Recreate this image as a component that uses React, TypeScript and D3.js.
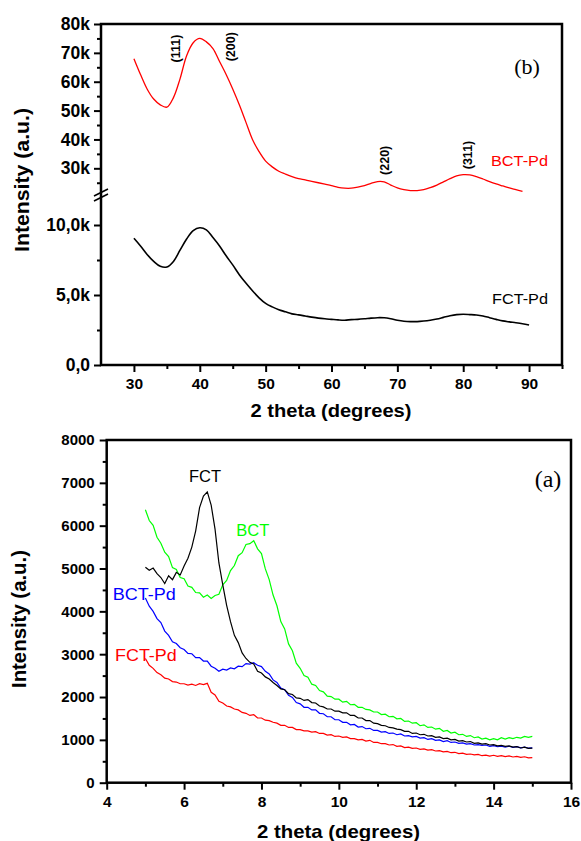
import React, { useEffect, useRef } from 'react'
import * as d3 from 'd3'

const FONT = '"Liberation Sans", Arial, Helvetica, sans-serif'
const SERIF = '"Liberation Serif", "Times New Roman", serif'

// ---- panel (b): wide angle, 2 theta 30..90 ----
const THETA_BCT_PD = d3.range(30, 90)
const BCT_PD_WIDE = [
  68000, 62500, 57500, 54000, 52000, 51200, 54500, 61000, 69000, 73500,
  75000, 73800, 71500, 67000, 62500, 57500, 52000, 46000, 40000, 35800,
  32500, 30500, 29000, 28000, 27100, 26400, 26000, 25500, 25000, 24500,
  24000, 23400, 23100, 23100, 23500, 24000, 24800, 25400, 25300, 24200,
  23200, 22600, 22300, 22300, 22600, 23300, 24200, 25300, 26400, 27400,
  27800, 27700, 27100, 26300, 25400, 24600, 23900, 23200, 22600, 22000,
]
const THETA_FCT_PD = d3.range(30, 91)
const FCT_PD_WIDE = [
  9050, 8500, 7900, 7400, 7050, 7000, 7400, 8200, 9000, 9600,
  9800, 9650, 9100, 8500, 7800, 7150, 6450, 5850, 5300, 4800,
  4400, 4150, 3950, 3800, 3650, 3580, 3500, 3420, 3350, 3300,
  3260, 3220, 3200, 3240, 3260, 3300, 3350, 3380, 3370, 3300,
  3200, 3130, 3100, 3100, 3140, 3200, 3280, 3400, 3520, 3600,
  3620, 3600, 3570, 3500, 3380, 3260, 3150, 3080, 3020, 2950,
  2860,
]
const PEAKS = [
  { label: '(111)', theta: 36.3, y: 48.5 },
  { label: '(200)', theta: 44.7, y: 46.7 },
  { label: '(220)', theta: 68.0, y: 160.3 },
  { label: '(311)', theta: 80.7, y: 155 },
]
const B_HI_TICKS = [30000, 40000, 50000, 60000, 70000, 80000]
const B_HI_MINOR = [25000, 35000, 45000, 55000, 65000, 75000]
const B_LO_TICKS = [0, 5000, 10000]
const B_LO_MINOR = [2500, 7500]
const B_LO_LABELS = ['0,0', '5,0k', '10,0k']
const B_X_TICKS = [30, 40, 50, 60, 70, 80, 90]
const B_X_MINOR = [35, 45, 55, 65, 75, 85, 95]

// ---- panel (a): low angle, 2 theta 5..15 step 0.1 ----
const THETA_A = d3.range(0, 101).map((i) => +(5 + i * 0.1).toFixed(1))
const FCT = [
  5030, 4960, 5010, 4880, 4790, 4650, 4830, 4740, 4910, 4850,
  5060, 5240, 5500, 5880, 6420, 6690, 6790, 6480, 5920, 5130,
  4620, 4140, 3760, 3440, 3270, 3030, 2900, 2810, 2770, 2600,
  2560, 2470, 2420, 2340, 2270, 2190, 2170, 2080, 2060, 1980,
  1970, 1920, 1940, 1870, 1860, 1790, 1770, 1720, 1720, 1670,
  1670, 1630, 1630, 1570, 1570, 1510, 1510, 1450, 1450, 1390,
  1380, 1340, 1330, 1290, 1280, 1250, 1240, 1200, 1200, 1150,
  1160, 1120, 1130, 1090, 1100, 1060, 1070, 1030, 1040, 1000,
  1010, 970, 980, 950, 960, 920, 930, 900, 910, 880,
  890, 860, 870, 850, 860, 830, 840, 810, 830, 800,
  805,
]
const BCT = [
  6370, 6120, 6010, 5730, 5590, 5380, 5280, 5020, 4980, 4790,
  4760, 4590, 4560, 4440, 4430, 4330, 4380, 4300, 4370, 4400,
  4620, 4720, 4950, 5070, 5300, 5370, 5560, 5580, 5650, 5460,
  5350, 4990, 4740, 4380, 4130, 3760, 3590, 3240, 3080, 2790,
  2670, 2500, 2460, 2300, 2270, 2150, 2120, 2020, 2010, 1950,
  1950, 1880, 1900, 1820, 1830, 1760, 1760, 1710, 1700, 1650,
  1650, 1590, 1600, 1540, 1550, 1490, 1500, 1430, 1440, 1390,
  1400, 1330, 1350, 1290, 1300, 1250, 1270, 1200, 1220, 1160,
  1180, 1120, 1130, 1080, 1100, 1050, 1070, 1020, 1040, 1000,
  1030, 1000, 1050, 1020, 1050, 1030, 1060, 1040, 1080, 1060,
  1080,
]
const BCT_PD = [
  4310, 4120, 4000, 3830, 3740, 3540, 3440, 3290, 3250, 3150,
  3110, 3020, 3010, 2920, 2920, 2840, 2840, 2720, 2670, 2600,
  2650, 2630, 2680, 2660, 2720, 2710, 2780, 2770, 2800, 2740,
  2710, 2600, 2540, 2400, 2340, 2210, 2170, 2040, 1990, 1870,
  1840, 1760, 1760, 1700, 1700, 1620, 1610, 1540, 1540, 1470,
  1470, 1410, 1410, 1350, 1360, 1300, 1310, 1260, 1270, 1220,
  1220, 1180, 1190, 1150, 1160, 1120, 1140, 1090, 1100, 1070,
  1080, 1040, 1050, 1010, 1030, 990, 1000, 960, 980, 940,
  950, 920, 930, 900, 910, 880, 890, 870, 880, 850,
  865, 840, 855, 830, 850, 825, 840, 815, 830, 805,
  815,
]
const FCT_PD = [
  2900, 2740, 2670, 2570, 2520, 2440, 2420, 2360, 2350, 2310,
  2310, 2280, 2300, 2270, 2310, 2290, 2320, 2110, 2050, 1900,
  1860, 1790, 1770, 1720, 1700, 1640, 1620, 1570, 1590, 1510,
  1510, 1460, 1450, 1410, 1390, 1340, 1340, 1290, 1290, 1240,
  1240, 1210, 1210, 1180, 1190, 1150, 1150, 1110, 1120, 1080,
  1090, 1060, 1070, 1030, 1030, 1000, 1010, 970, 990, 940,
  940, 910, 910, 880, 890, 850, 860, 820, 830, 800,
  810, 780, 790, 760, 770, 740, 750, 720, 730, 700,
  710, 680, 690, 660, 670, 650, 660, 630, 645, 620,
  640, 615, 630, 610, 625, 600, 615, 590, 605, 580,
  585,
]
const A_SERIES = [
  { name: 'FCT', values: FCT, color: '#000000' },
  { name: 'BCT', values: BCT, color: '#00ff00' },
  { name: 'BCT-Pd', values: BCT_PD, color: '#0000ff' },
  { name: 'FCT-Pd', values: FCT_PD, color: '#ff0000' },
]
const A_X_TICKS = [4, 6, 8, 10, 12, 14, 16]
const A_X_MINOR = [5, 7, 9, 11, 13, 15]
const A_Y_TICKS = d3.range(0, 8001, 1000)
const A_Y_MINOR = d3.range(500, 8000, 1000)

export default function App() {
  const svgRef = useRef<SVGSVGElement>(null)

  useEffect(() => {
    const svg = d3.select(svgRef.current)
    svg.selectAll('*').remove()

    svg.append('rect').attr('width', 581).attr('height', 841).attr('fill', '#fff')

    const label = (x, y, str, o: any = {}) =>
      svg.append('text')
        .attr('x', x)
        .attr('y', y)
        .attr('font-family', o.family || FONT)
        .attr('font-size', o.size || 16)
        .attr('font-weight', o.weight || 'normal')
        .attr('fill', o.color || '#000')
        .attr('text-anchor', o.anchor || 'start')
        .text(str)

    const styleAxis = (g, size) => {
      g.select('.domain').remove()
      g.selectAll('line').attr('stroke', '#000').attr('stroke-width', 2)
      g.attr('font-family', FONT).attr('font-size', size).attr('font-weight', 'bold')
      g.selectAll('text').attr('fill', '#000')
    }

    // ================= panel (b) =================
    const xB = d3.scaleLinear().domain([25, 95]).range([101, 562])
    const yHi = d3.scaleLinear().domain([22000, 80000]).range([191.4, 24])
    const yLo = d3.scaleLinear().domain([0, 12000]).range([365, 197])

    svg.append('g').attr('transform', 'translate(101,0)')
      .call(d3.axisLeft(yHi).tickValues(B_HI_TICKS).tickSize(7).tickPadding(4).tickFormat((d) => `${+d / 1000}k`))
      .call((g) => styleAxis(g, 17.5))
    svg.append('g').attr('transform', 'translate(101,0)')
      .call(d3.axisLeft(yHi).tickValues(B_HI_MINOR).tickSize(4).tickFormat(() => ''))
      .call((g) => styleAxis(g, 10))
    svg.append('g').attr('transform', 'translate(101,0)')
      .call(d3.axisLeft(yLo).tickValues(B_LO_TICKS).tickSize(7).tickPadding(4).tickFormat((_, i) => B_LO_LABELS[i]))
      .call((g) => styleAxis(g, 17.5))
    svg.append('g').attr('transform', 'translate(101,0)')
      .call(d3.axisLeft(yLo).tickValues(B_LO_MINOR).tickSize(4).tickFormat(() => ''))
      .call((g) => styleAxis(g, 10))
    svg.append('g').attr('transform', 'translate(0,365)')
      .call(d3.axisBottom(xB).tickValues(B_X_TICKS).tickSize(7).tickPadding(6).tickFormat(d3.format('d')))
      .call((g) => styleAxis(g, 15.5))
    svg.append('g').attr('transform', 'translate(0,365)')
      .call(d3.axisBottom(xB).tickValues(B_X_MINOR).tickSize(4).tickFormat(() => ''))
      .call((g) => styleAxis(g, 10))

    svg.append('rect')
      .attr('x', xB(25)).attr('y', yHi(80000))
      .attr('width', xB(95) - xB(25)).attr('height', yLo(0) - yHi(80000))
      .attr('fill', 'none').attr('stroke', '#000').attr('stroke-width', 2.5)

    // axis break marks
    ;[0, 5].forEach((off) => {
      svg.append('line')
        .attr('x1', 94).attr('y1', 196 + off).attr('x2', 108).attr('y2', 189 + off)
        .attr('stroke', '#000').attr('stroke-width', 1.6)
    })

    const lineHi = d3.line<number>().x((_, i) => xB(THETA_BCT_PD[i])).y((d) => yHi(d)).curve(d3.curveCatmullRom)
    const lineLo = d3.line<number>().x((_, i) => xB(THETA_FCT_PD[i])).y((d) => yLo(d)).curve(d3.curveCatmullRom)
    svg.append('path').attr('d', lineHi(BCT_PD_WIDE)).attr('fill', 'none').attr('stroke', '#ff0000').attr('stroke-width', 1.3)
    svg.append('path').attr('d', lineLo(FCT_PD_WIDE)).attr('fill', 'none').attr('stroke', '#000').attr('stroke-width', 1.6)

    PEAKS.forEach((p) => {
      svg.append('text')
        .attr('transform', `translate(${xB(p.theta)},${p.y}) rotate(-90)`)
        .attr('dy', '0.35em')
        .attr('text-anchor', 'middle')
        .attr('font-family', FONT).attr('font-weight', 'bold').attr('font-size', 12.5)
        .text(p.label)
    })

    label(491, 165.7, 'BCT-Pd', { color: '#ff0000', size: 15.5 }).attr('textLength', 57).attr('lengthAdjust', 'spacingAndGlyphs')
    label(492, 304, 'FCT-Pd', { size: 15.5 }).attr('textLength', 56).attr('lengthAdjust', 'spacingAndGlyphs')
    label(527, 74, '(b)', { family: SERIF, size: 22, anchor: 'middle' })

    svg.append('text')
      .attr('transform', 'translate(29,180) rotate(-90)')
      .attr('text-anchor', 'middle')
      .attr('font-family', FONT).attr('font-weight', 'bold').attr('font-size', 20)
      .attr('textLength', 144).attr('lengthAdjust', 'spacingAndGlyphs')
      .text('Intensity (a.u.)')
    label(331, 417, '2 theta (degrees)', { weight: 'bold', size: 18.5, anchor: 'middle' })
      .attr('textLength', 161).attr('lengthAdjust', 'spacingAndGlyphs')

    // ================= panel (a) =================
    const xA = d3.scaleLinear().domain([4, 16]).range([106.7, 571])
    const yA = d3.scaleLinear().domain([0, 8000]).range([782.7, 440])

    svg.append('g').attr('transform', 'translate(106.7,0)')
      .call(d3.axisLeft(yA).tickValues(A_Y_TICKS).tickSize(7).tickPadding(5).tickFormat(d3.format('d')))
      .call((g) => styleAxis(g, 15))
    svg.append('g').attr('transform', 'translate(106.7,0)')
      .call(d3.axisLeft(yA).tickValues(A_Y_MINOR).tickSize(4).tickFormat(() => ''))
      .call((g) => styleAxis(g, 10))
    svg.append('g').attr('transform', 'translate(0,782.7)')
      .call(d3.axisBottom(xA).tickValues(A_X_TICKS).tickSize(7).tickPadding(6).tickFormat(d3.format('d')))
      .call((g) => styleAxis(g, 15.5))
    svg.append('g').attr('transform', 'translate(0,782.7)')
      .call(d3.axisBottom(xA).tickValues(A_X_MINOR).tickSize(4).tickFormat(() => ''))
      .call((g) => styleAxis(g, 10))

    svg.append('rect')
      .attr('x', xA(4)).attr('y', yA(8000))
      .attr('width', xA(16) - xA(4)).attr('height', yA(0) - yA(8000))
      .attr('fill', 'none').attr('stroke', '#000').attr('stroke-width', 2.5)

    const lineA = d3.line<number>().x((_, i) => xA(THETA_A[i])).y((d) => yA(d))
    // draw order: red, blue, green, black on top
    ;[3, 2, 1, 0].forEach((k) => {
      const s = A_SERIES[k]
      svg.append('path').attr('d', lineA(s.values)).attr('fill', 'none')
        .attr('stroke', s.color).attr('stroke-width', 1.2)
    })

    label(205, 482, 'FCT', { size: 16.5, anchor: 'middle' })
    label(252.8, 535.7, 'BCT', { size: 16.5, anchor: 'middle', color: '#00ff00' })
    label(112.7, 600, 'BCT-Pd', { size: 17, color: '#0000ff' }).attr('textLength', 63).attr('lengthAdjust', 'spacingAndGlyphs')
    label(115, 660.7, 'FCT-Pd', { size: 17, color: '#ff0000' }).attr('textLength', 61.7).attr('lengthAdjust', 'spacingAndGlyphs')
    label(548, 487, '(a)', { family: SERIF, size: 24, anchor: 'middle' })

    svg.append('text')
      .attr('transform', 'translate(26,619) rotate(-90)')
      .attr('text-anchor', 'middle')
      .attr('font-family', FONT).attr('font-weight', 'bold').attr('font-size', 19.5)
      .attr('textLength', 138).attr('lengthAdjust', 'spacingAndGlyphs')
      .text('Intensity (a.u.)')
    label(338.5, 838, '2 theta (degrees)', { weight: 'bold', size: 18.5, anchor: 'middle' })
      .attr('textLength', 163).attr('lengthAdjust', 'spacingAndGlyphs')
  }, [])

  return (
    <svg
      ref={svgRef}
      width={581}
      height={841}
      style={{ position: 'absolute', left: 0, top: 0, display: 'block' }}
    />
  )
}
